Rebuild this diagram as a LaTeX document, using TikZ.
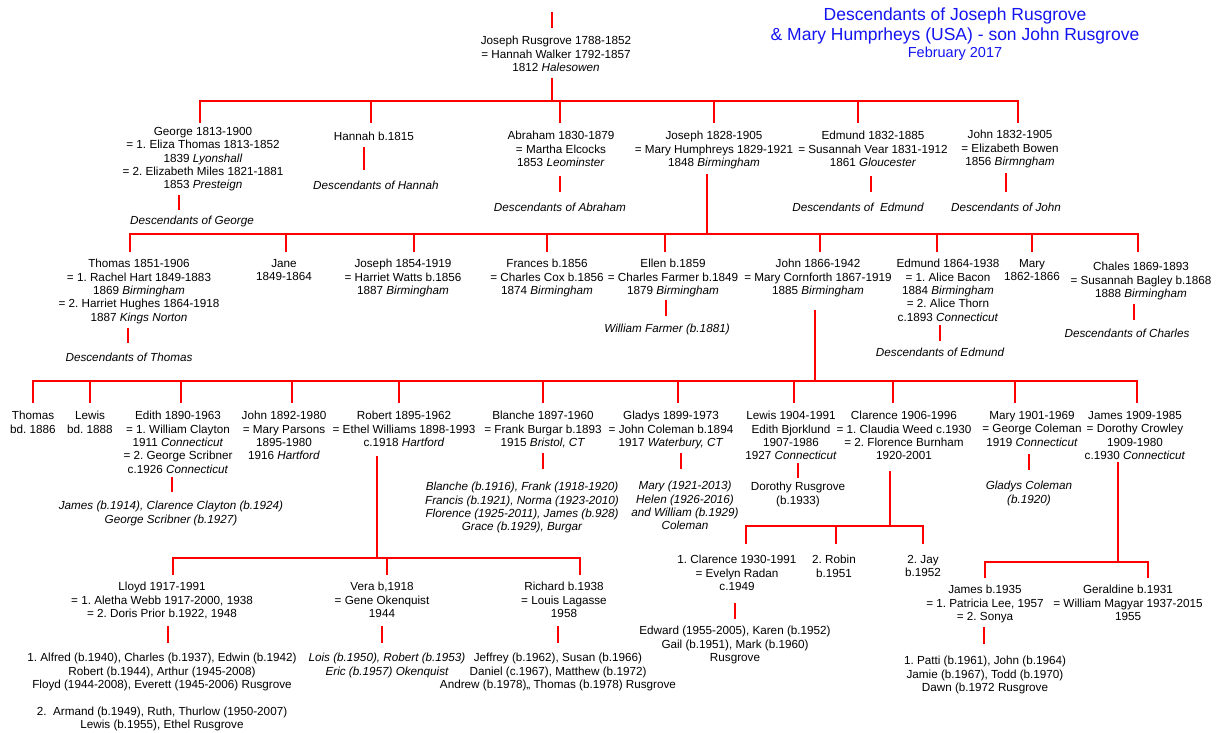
\documentclass[tikz,border=0pt]{standalone}
\usepackage{fontspec}
\setmainfont{Liberation Sans}
\frenchspacing
\definecolor{ttlblue}{RGB}{20,20,240}
\definecolor{lnred}{RGB}{255,0,0}
\begin{document}
\begin{tikzpicture}[x=1pt,y=-1pt,
  ln/.style={draw=lnred, line width=1.7pt},
  t/.style={anchor=north, inner sep=0pt, align=center, font=\fontsize{11.7}{13.4}\selectfont\frenchspacing, execute at begin node=\strut},
  ti/.style={t, font=\fontsize{11.7}{13.4}\selectfont\frenchspacing\itshape},
  ttl/.style={anchor=base, inner sep=0pt, text=ttlblue, font=\fontsize{17.5}{20}\selectfont},
  ttls/.style={anchor=base, inner sep=0pt, text=ttlblue, font=\fontsize{14.5}{17}\selectfont}]
\useasboundingbox (0,0) rectangle (1220,733);

% title
\node[ttl] (title1) at (955,20.5) {Descendants of Joseph Rusgrove};
\node[ttl] (title2) at (955,40.5) {\& Mary Humprheys (USA) - son John Rusgrove};
\node[ttls] (title3) at (955,57.2) {February 2017};

% level 0
\node[t] (j0) at (556,36) {Joseph Rusgrove 1788-1852\\= Hannah Walker 1792-1857\\1812 \textit{Halesowen}};
\coordinate (j0top) at (552,12);
\coordinate (j0in) at (552,28);
\draw[ln] (j0top) -- (j0in);
\coordinate (b1) at (552,101);
\draw[ln] (552,78) -- (b1);
\draw[ln] (200,123) -- (200,101) -- (1018,101) -- (1018,123);
\foreach \x in {371,560,714,858} \draw[ln] (\x,101) -- (\x,123);

% level 1
\node[t] (george) at (203,127) {George 1813-1900\\= 1. Eliza Thomas 1813-1852\\1839 \textit{Lyonshall}\\= 2. Elizabeth Miles 1821-1881\\1853 \textit{Presteign}};
\node[t] (hannah) at (374,131) {Hannah b.1815};
\node[t] (abraham) at (561,131) {Abraham 1830-1879\\= Martha Elcocks\\1853 \textit{Leominster}};
\node[t] (joseph) at (714,131) {Joseph 1828-1905\\= Mary Humphreys 1829-1921\\1848 \textit{Birmingham}};
\node[t] (edmund) at (873,131) {Edmund 1832-1885\\= Susannah Vear 1831-1912\\1861 \textit{Gloucester}};
\node[t] (john) at (1010,130) {John 1832-1905\\= Elizabeth Bowen\\1856 \textit{Birmngham}};

\draw[ln] (179,195) -- (179,210);
\node[ti] (dgeorge) at (192,215) {Descendants of George};
\draw[ln] (364,147) -- (364,170);
\node[ti] (dhannah) at (376,180) {Descendants of Hannah};
\draw[ln] (560,176) -- (560,192);
\node[ti] (dabraham) at (560,202) {Descendants of Abraham};
\draw[ln] (871,176) -- (871,192);
\node[ti] (dedmund) at (858,202) {Descendants of~ Edmund};
\draw[ln] (1006,173) -- (1006,192);
\node[ti] (djohn) at (1006,202) {Descendants of John};
\draw[ln] (707,174) -- (707,234);

% level 2
\draw[ln] (130,252) -- (130,234) -- (1138,234) -- (1138,252);
\foreach \x in {286,414,547,665,820,937,1032} \draw[ln] (\x,234) -- (\x,252);

\node[t] (thomas) at (139,259) {Thomas 1851-1906\\= 1. Rachel Hart 1849-1883\\1869 \textit{Birmingham}\\= 2. Harriet Hughes 1864-1918\\1887 \textit{Kings Norton}};
\node[t] (jane) at (284,259) {Jane\\1849-1864};
\node[t] (joseph2) at (403,259) {Joseph 1854-1919\\= Harriet Watts b.1856\\1887 \textit{Birmingham}};
\node[t] (frances) at (547,259) {Frances b.1856\\= Charles Cox b.1856\\1874 \textit{Birmingham}};
\node[t] (ellen) at (673,259) {Ellen b.1859\\= Charles Farmer b.1849\\1879 \textit{Birmingham}};
\node[t] (john2) at (818,259) {John 1866-1942\\= Mary Cornforth 1867-1919\\1885 \textit{Birmingham}};
\node[t] (edmund2) at (948,259) {Edmund 1864-1938\\= 1. Alice Bacon\\1884 \textit{Birmingham}\\= 2. Alice Thorn\\c.1893 \textit{Connecticut}};
\node[t] (mary2) at (1032,259) {Mary\\1862-1866};
\node[t] (chales) at (1141,262) {Chales 1869-1893\\= Susannah Bagley b.1868\\1888 \textit{Birmingham}};

\draw[ln] (128,328) -- (128,343);
\node[ti] (dthomas) at (129,352) {Descendants of Thomas};
\draw[ln] (666,300) -- (666,316);
\node[ti] (wfarmer) at (667,323) {William Farmer (b.1881)};
\draw[ln] (940,325) -- (940,341);
\node[ti] (dedmund2) at (940,347) {Descendants of Edmund};
\draw[ln] (1134,304) -- (1134,320);
\node[ti] (dcharles) at (1127,328) {Descendants of Charles};
\draw[ln] (815,310) -- (815,381);

% level 3
\draw[ln] (33,403) -- (33,381) -- (1137,381) -- (1137,403);
\foreach \x in {90,181,292,399,543,678,794,893,1015} \draw[ln] (\x,381) -- (\x,403);

\node[t] (thomas3) at (33,411) {Thomas\\bd. 1886};
\node[t] (lewis3) at (90,411) {Lewis\\bd. 1888};
\node[t] (edith) at (178,411) {Edith 1890-1963\\= 1. William Clayton\\1911 \textit{Connecticut}\\= 2. George Scribner\\c.1926 \textit{Connecticut}};
\node[t] (john3) at (284,411) {John 1892-1980\\= Mary Parsons\\1895-1980\\1916 \textit{Hartford}};
\node[t] (robert) at (404,411) {Robert 1895-1962\\= Ethel Williams 1898-1993\\c.1918 \textit{Hartford}};
\node[t] (blanche) at (543,411) {Blanche 1897-1960\\= Frank Burgar b.1893\\1915 \textit{Bristol, CT}};
\node[t] (gladys) at (671,411) {Gladys 1899-1973\\= John Coleman b.1894\\1917 \textit{Waterbury, CT}};
\node[t] (lewis4) at (791,411) {Lewis 1904-1991\\Edith Bjorklund\\1907-1986\\1927 \textit{Connecticut}};
\node[t] (clarence) at (904,411) {Clarence 1906-1996\\= 1. Claudia Weed c.1930\\= 2. Florence Burnham\\1920-2001};
\node[t] (mary3) at (1032,411) {Mary 1901-1969\\= George Coleman\\1919 \textit{Connecticut}};
\node[t] (james3) at (1135,411) {James 1909-1985\\= Dorothy Crowley\\1909-1980\\c.1930 \textit{Connecticut}};

\draw[ln] (172,477) -- (172,492);
\node[ti] (edithc) at (171,501) {James (b.1914), Clarence Clayton (b.1924)\\George Scribner (b.1927)};
\draw[ln] (543,453) -- (543,469);
\node[ti] (blanchec) at (522,482) {Blanche (b.1916), Frank (1918-1920)\\Francis (b.1921), Norma (1923-2010)\\Florence (1925-2011), James (b.928)\\Grace (b.1929), Burgar};
\draw[ln] (681,453) -- (681,469);
\node[ti] (gladysc) at (685,481) {Mary (1921-2013)\\Helen (1926-2016)\\and William (b.1929)\\Coleman};
\draw[ln] (798,463) -- (798,478);
\node[t] (dorothy) at (798,482) {Dorothy Rusgrove\\(b.1933)};
\draw[ln] (1029,454) -- (1029,470);
\node[ti] (gcoleman) at (1029,481) {Gladys Coleman\\(b.1920)};

% Clarence's children
\draw[ln] (890,471) -- (890,526);
\draw[ln] (746,544) -- (746,526) -- (923,526) -- (923,544);
\draw[ln] (836,526) -- (836,544);
\node[t] (clar4) at (737,555) {1. Clarence 1930-1991\\= Evelyn Radan\\c.1949};
\node[t] (robin) at (834,555) {2. Robin\\b.1951};
\node[t] (jay) at (923,555) {2. Jay\\b.1952};
\draw[ln] (735,603) -- (735,619);
\node[t] (clar4c) at (735,626) {Edward (1955-2005), Karen (b.1952)\\Gail (b.1951), Mark (b.1960)\\Rusgrove};

% Robert's children
\draw[ln] (377,456) -- (377,558);
\draw[ln] (173,575) -- (173,558) -- (580,558) -- (580,575);
\draw[ln] (387,558) -- (387,575);
\node[t] (lloyd) at (162,582) {Lloyd 1917-1991\\= 1. Aletha Webb 1917-2000, 1938\\= 2. Doris Prior b.1922, 1948};
\node[t] (vera) at (382,582) {Vera b,1918\\= Gene Okenquist\\1944};
\node[t] (richard) at (564,582) {Richard b.1938\\= Louis Lagasse\\1958};
\draw[ln] (168,626) -- (168,643);
\draw[ln] (382,626) -- (382,643);
\draw[ln] (558,626) -- (558,643);
\node[t] (lloydc) at (162,653) {1. Alfred (b.1940), Charles (b.1937), Edwin (b.1942)\\Robert (b.1944), Arthur (1945-2008)\\Floyd (1944-2008), Everett (1945-2006) Rusgrove\\[13.4pt]2.~ Armand (b.1949), Ruth, Thurlow (1950-2007)\\Lewis (b.1955), Ethel Rusgrove};
\node[ti] (verac) at (387,653) {Lois (b.1950), Robert (b.1953)\\Eric (b.1957) Okenquist};
\node[t] (richardc) at (558,653) {Jeffrey (b.1962), Susan (b.1966)\\Daniel (c.1967), Matthew (b.1972)\\Andrew (b.1978),, Thomas (b.1978) Rusgrove};

% James's children
\draw[ln] (1118,462) -- (1118,562);
\draw[ln] (985,578) -- (985,562) -- (1148,562) -- (1148,578);
\node[t] (james4) at (985,585) {James b.1935\\= 1. Patricia Lee, 1957\\= 2. Sonya};
\node[t] (geraldine) at (1128,585) {Geraldine b.1931\\= William Magyar 1937-2015\\1955};
\draw[ln] (984,627) -- (984,644);
\node[t] (james4c) at (985,656) {1. Patti (b.1961), John (b.1964)\\Jamie (b.1967), Todd (b.1970)\\Dawn (b.1972 Rusgrove};
\end{tikzpicture}
\end{document}
